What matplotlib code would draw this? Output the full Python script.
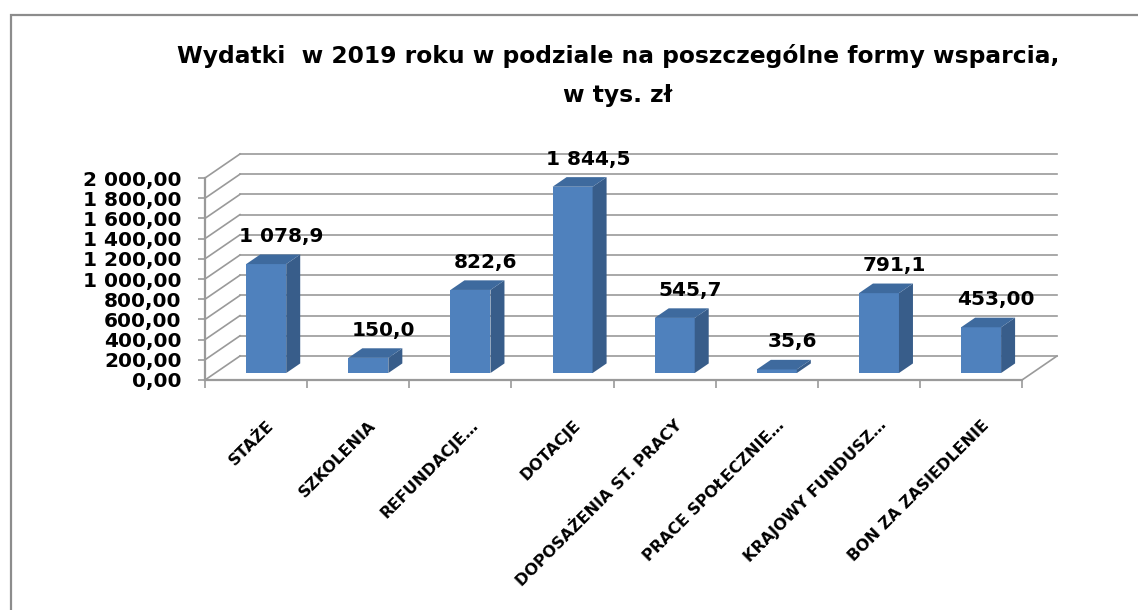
import matplotlib
matplotlib.use("Agg")
import matplotlib.pyplot as plt
from matplotlib.patches import Polygon, Rectangle

# data
categories = ["STAŻE", "SZKOLENIA", "REFUNDACJE…", "DOTACJE",
              "DOPOSAŻENIA ST. PRACY", "PRACE SPOŁECZNIE…",
              "KRAJOWY FUNDUSZ…", "BON ZA ZASIEDLENIE"]
values = [1078.9, 150.0, 822.6, 1844.5, 545.7, 35.6, 791.1, 453.00]
value_labels = ["1 078,9", "150,0", "822,6", "1 844,5", "545,7", "35,6",
                "791,1", "453,00"]
yticks = list(range(0, 2001, 200))

title = "Wydatki  w 2019 roku w podziale na poszczególne formy wsparcia,\nw tys. zł"

W, H = 1138, 610
PX_X = 817 / 8.0          # pixels per category
PX_Y = 202 / 2000.0       # pixels per value unit
DX = 35 / PX_X            # depth of the 3d box, in data units
DY = 24 / PX_Y
F0, F1 = 0.29, 0.69       # bar front / back depth fractions
BAR_W = 40 / PX_X

FRONT = "#4F81BD"
SIDE = "#385D8A"
TOP = "#3E6A9E"
GRID = "#9A9A9A"


def fmt(v):
    return ("{:,.2f}".format(v)).replace(",", " ").replace(".", ",")


def main():
    fig = plt.figure(figsize=(W / 100.0, H / 100.0), dpi=100)
    fig.patch.set_facecolor("white")
    # outer chart border (right and bottom fall outside the picture)
    fig.patches.append(Rectangle((10.5 / W, -0.1), 1.2, 1 - 14.5 / H + 0.1,
                                 transform=fig.transFigure, fill=False,
                                 edgecolor="#8C8C8C", linewidth=1.6))

    ax = fig.add_axes([205 / W, (H - 380) / H, 855 / W, 230 / H])
    n = len(categories)
    ax.set_xlim(-0.5, -0.5 + 855 / PX_X)
    ax.set_ylim(0, 230 / PX_Y)
    ax.patch.set_alpha(0)

    # walls: back gridlines and left side wall diagonals
    for v in yticks:
        ax.plot([-0.5 + DX, n - 0.5 + DX], [v + DY, v + DY], color=GRID,
                lw=1.2, zorder=1, clip_on=False)
        ax.plot([-0.5, -0.5 + DX], [v, v + DY], color=GRID, lw=1.2,
                zorder=1, clip_on=False)
    # floor right edge
    ax.plot([n - 0.5, n - 0.5 + DX], [0, DY], color=GRID, lw=1.2, zorder=1)

    # bars
    x0 = [i - BAR_W / 2 + F0 * DX for i in range(n)]
    y0 = F0 * DY
    ddx = (F1 - F0) * DX
    ddy = (F1 - F0) * DY
    ax.bar(x0, values, width=BAR_W, bottom=y0, align="edge", color=FRONT,
           edgecolor="none", zorder=3)
    for xl, v, lab in zip(x0, values, value_labels):
        xr = xl + BAR_W
        top = y0 + v
        ax.add_patch(Polygon([(xr, y0), (xr + ddx, y0 + ddy),
                              (xr + ddx, top + ddy), (xr, top)],
                             closed=True, facecolor=SIDE, edgecolor="none",
                             zorder=3))
        ax.add_patch(Polygon([(xl, top), (xr, top), (xr + ddx, top + ddy),
                              (xl + ddx, top + ddy)],
                             closed=True, facecolor=TOP, edgecolor="none",
                             zorder=3))
        ax.text(xl + BAR_W / 2 + ddx / 2 + 0.08, top + ddy + 85, lab,
                ha="center", va="bottom", fontsize=14.5, fontweight="bold",
                color="black", zorder=4)

    # category labels, rotated
    for i, c in enumerate(categories):
        ax.text(i + 0.1, -370, c, rotation=45, rotation_mode="anchor",
                ha="right", va="top", fontsize=11.5, fontweight="bold",
                color="black")

    # axes: front left vertical and front floor line
    for s in ["top", "right"]:
        ax.spines[s].set_visible(False)
    ax.spines["left"].set_bounds(0, 2000)
    ax.spines["bottom"].set_bounds(-0.5, n - 0.5)
    for s in ["left", "bottom"]:
        ax.spines[s].set_color(GRID)
        ax.spines[s].set_linewidth(1.6)
        ax.spines[s].set_zorder(2)

    ax.set_yticks(yticks)
    ax.set_yticklabels([fmt(v) for v in yticks], fontsize=14.5,
                       fontweight="bold")
    ax.set_xticks([i - 0.5 for i in range(n + 1)])
    ax.set_xticklabels([])
    ax.tick_params(axis="y", length=5, width=1.2, color=GRID, pad=12)
    ax.tick_params(axis="x", length=6, width=1.2, color=GRID)

    fig.text(618 / W, 1 - 44 / H, title, ha="center", va="top",
             fontsize=16.8, fontweight="bold", linespacing=1.9)

    fig.savefig("out.png", dpi=100)


if __name__ == '__main__':
    main()
